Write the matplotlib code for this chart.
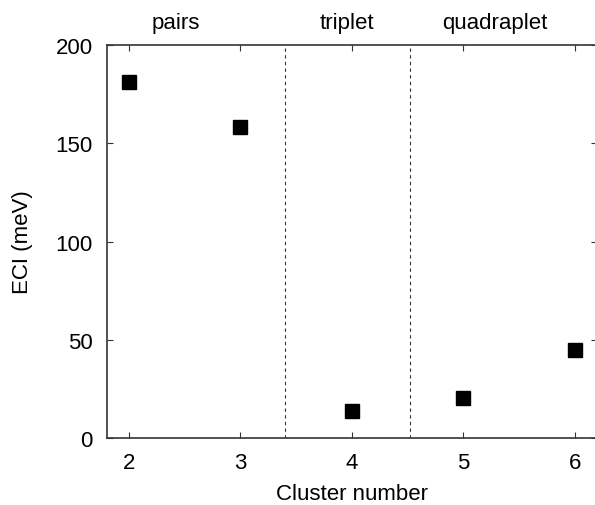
import matplotlib
matplotlib.use('Agg')
import matplotlib.pyplot as plt

plt.rcParams['font.family'] = ['Liberation Sans', 'DejaVu Sans']

cluster = [2, 3, 4, 5, 6]
eci = [181, 158, 13.7, 20.5, 45]
dividers = [3.4, 4.52]
groups = ['pairs', 'triplet', 'quadraplet']
group_x = [2.42, 3.96, 5.28]

fig = plt.figure(figsize=(5.95, 5.06), dpi=100)
ax = fig.add_axes([0.1793, 0.1318, 0.824, 0.7779])

ax.plot(cluster, eci, 's', color='black', markersize=9.5, linestyle='none')
for d in dividers:
    ax.axvline(d, color='#333333', linestyle=(0, (3, 3)), linewidth=0.8)

ax.set_xlim(1.8, 6.2)
ax.set_ylim(0, 200)
ax.set_xticks(cluster)
ax.set_yticks([0, 50, 100, 150, 200])
ax.tick_params(direction='in', top=True, right=True, labelsize=16, length=4.5, pad=10, color='#333333')
for s in ax.spines.values():
    s.set_color('#333333')
    s.set_linewidth(1.2)
ax.set_xlabel('Cluster number', fontsize=16, labelpad=7)
ax.set_ylabel('ECI (meV)', fontsize=16, labelpad=16)

for g, gx in zip(groups, group_x):
    ax.text(gx, 1.03, g, transform=ax.get_xaxis_transform(), ha='center', va='bottom', fontsize=16)

fig.savefig('out.png', dpi=100)
